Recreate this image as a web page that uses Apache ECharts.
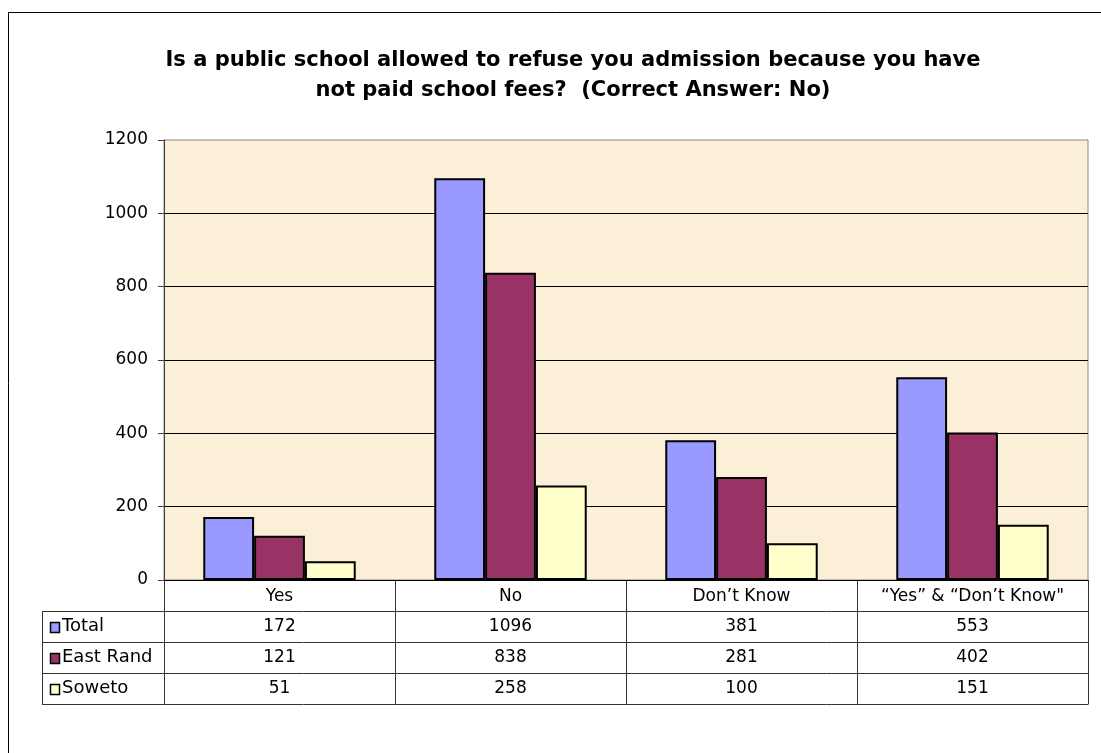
<!DOCTYPE html>
<html>
<head>
    <meta charset="utf-8"/>
    <title>School fees admission</title>
    <script src="https://cdn.jsdelivr.net/npm/echarts@6/dist/echarts.min.js"></script>
    <style>
        html, body { margin: 0; padding: 0; background: #fff; }
        #chart { width: 1101px; height: 753px; }
    </style>
</head>
<body>
<div id="chart"></div>
<script>
    // data
    var categories = ['Yes', 'No', 'Don\u2019t Know', '\u201cYes\u201d & \u201cDon\u2019t Know"'];
    var seriesNames = ['Total', 'East Rand', 'Soweto'];
    var totalVals = [172, 1096, 381, 553];
    var eastRandVals = [121, 838, 281, 402];
    var sowetoVals = [51, 258, 100, 151];
    var yTicks = [0, 200, 400, 600, 800, 1000, 1200];

    var colors = ['#9999ff', '#993366', '#ffffcc'];
    var allVals = [totalVals, eastRandVals, sowetoVals];

    // layout
    var plotL = 164, plotR = 1088, plotT = 140, plotB = 580;
    var rowH = 31;
    var tableL = 42;
    var font = '"DejaVu Sans", Arial, sans-serif';

    var chart = echarts.init(document.getElementById('chart'));

    var graphics = [];
    // outer frame
    graphics.push({
        type: 'rect', shape: { x: 8.5, y: 12.5, width: 1200, height: 900 },
        style: { fill: null, stroke: '#000', lineWidth: 1 }, silent: true
    });
    // data table under the plot
    var colW = (plotR - plotL) / categories.length;
    var tableB = plotB + rowH * (seriesNames.length + 1);
    var lineStyle = { stroke: '#333', lineWidth: 1 };
    for (var r = 1; r <= seriesNames.length + 1; r++) {
        var yy = Math.round(plotB + rowH * r) + 0.5;
        graphics.push({ type: 'line', shape: { x1: tableL, y1: yy, x2: plotR, y2: yy }, style: lineStyle, silent: true });
    }
    graphics.push({ type: 'line', shape: { x1: tableL + 0.5, y1: plotB + rowH + 0.5, x2: tableL + 0.5, y2: tableB + 0.5 }, style: lineStyle, silent: true });
    for (var c = 0; c <= categories.length; c++) {
        var xx = Math.round(plotL + colW * c) + 0.5;
        graphics.push({ type: 'line', shape: { x1: xx, y1: plotB, x2: xx, y2: tableB + 0.5 }, style: lineStyle, silent: true });
    }
    for (var s = 0; s < seriesNames.length; s++) {
        var cy = plotB + rowH * (s + 1) + rowH / 2;
        graphics.push({
            type: 'rect', shape: { x: 50.5, y: Math.round(cy - 5) + 0.5, width: 9, height: 10 },
            style: { fill: colors[s], stroke: '#000', lineWidth: 1.5 }, silent: true
        });
        graphics.push({
            type: 'text', x: 62, y: cy,
            style: { text: seriesNames[s], font: '18px ' + font, fill: '#000', verticalAlign: 'middle', align: 'left' },
            silent: true
        });
        for (var k = 0; k < categories.length; k++) {
            graphics.push({
                type: 'text', x: plotL + colW * (k + 0.5), y: cy,
                style: { text: String(allVals[s][k]), font: '17px ' + font, fill: '#000', verticalAlign: 'middle', align: 'center' },
                silent: true
            });
        }
    }

    var series = seriesNames.map(function (name, i) {
        return {
            name: name,
            type: 'bar',
            data: allVals[i],
            barGap: '0%',
            barCategoryGap: '34%',
            itemStyle: { color: colors[i], borderColor: '#000', borderWidth: 2 }
        };
    });

    var option = {
        animation: false,
        textStyle: { fontFamily: font },
        title: {
            text: 'Is a public school allowed to refuse you admission because you have\nnot paid school fees?  (Correct Answer: No)',
            left: 568,
            top: 41,
            textAlign: 'center',
            textStyle: { fontSize: 21, fontWeight: 'bold', color: '#000', lineHeight: 30, fontFamily: font }
        },
        grid: {
            left: plotL, right: 1101 - plotR, top: plotT, bottom: 753 - plotB,
            show: true, backgroundColor: '#fbefd8', borderColor: '#888', borderWidth: 1
        },
        xAxis: {
            type: 'category',
            data: categories,
            axisLine: { show: true, lineStyle: { color: '#000', width: 1 } },
            axisTick: { show: false },
            axisLabel: { interval: 0, margin: 8, fontSize: 17, color: '#000', fontFamily: font }
        },
        yAxis: {
            type: 'value',
            min: yTicks[0],
            max: yTicks[yTicks.length - 1],
            interval: 200,
            axisLine: { show: true, lineStyle: { color: '#404040', width: 1 } },
            axisTick: { show: true, length: 6, lineStyle: { color: '#404040' } },
            axisLabel: {
                margin: 16, fontSize: 17, color: '#000', fontFamily: font,
                formatter: function (v) { return String(v); }
            },
            splitLine: { show: true, showMinLine: false, showMaxLine: false, lineStyle: { color: '#000', width: 1 } }
        },
        series: series,
        graphic: graphics
    };
    chart.setOption(option);
</script>
</body>
</html>
